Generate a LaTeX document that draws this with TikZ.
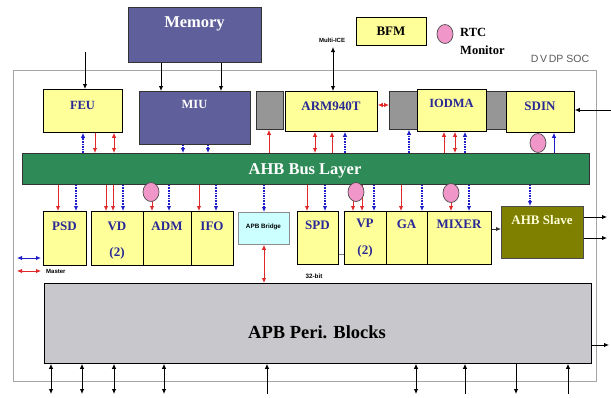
\documentclass[tikz,border=0pt]{standalone}
\usepackage{fontspec}
\setmainfont{Liberation Serif}
\newfontfamily\sansf{Liberation Sans}
\usetikzlibrary{arrows.meta,shapes.geometric}
\definecolor{memblue}{RGB}{95,95,155}
\definecolor{boxyel}{RGB}{255,255,153}
\definecolor{busgreen}{RGB}{46,139,87}
\definecolor{txtblue}{RGB}{40,40,150}
\definecolor{arrred}{RGB}{225,40,40}
\definecolor{arrblue}{RGB}{30,30,200}
\definecolor{boxgray}{RGB}{150,150,150}
\definecolor{perigray}{RGB}{200,200,204}
\definecolor{olivebox}{RGB}{128,128,0}
\definecolor{slavetxt}{RGB}{255,255,215}
\definecolor{bridgecyan}{RGB}{204,255,255}
\definecolor{rtcpink}{RGB}{240,150,200}
\definecolor{socgray}{RGB}{165,165,165}
\newcommand\blk[6]{\node[#1,anchor=north west,minimum width={#4pt-#2pt},minimum height={#5pt-#3pt}] (#6) at (#2,#3) {};}
\newcommand\va[4]{\draw[#1] (#2,0 |- #3) -- (#2,0 |- #4);}
\newcommand\tfs[1]{\fontsize{#1}{#1}\selectfont}
\begin{document}
\begin{tikzpicture}[x=1pt,y=-1pt,
  yelbox/.style={draw=black,line width=0.8pt,fill=boxyel,inner sep=0pt},
  membox/.style={draw=black!80,line width=0.8pt,fill=memblue,inner sep=0pt},
  graybox/.style={draw=black!80,line width=0.8pt,fill=boxgray,inner sep=0pt},
  busbox/.style={draw=black!80,line width=0.8pt,fill=busgreen,inner sep=0pt},
  peribox/.style={draw=black,line width=0.8pt,fill=perigray,inner sep=0pt},
  slavebox/.style={draw=black!70,line width=0.8pt,fill=olivebox,inner sep=0pt},
  bridgebox/.style={draw=black!45,line width=0.8pt,fill=bridgecyan,inner sep=0pt},
  socbox/.style={draw=socgray,line width=1.3pt,inner sep=0pt},
  btxt/.style={inner sep=0pt,text=txtblue,font=\tfs{12.5}\bfseries},
  wtxt/.style={inner sep=0pt,text=white,font=\tfs{12.5}\bfseries},
  ktxt/.style={inner sep=0pt,text=black,font=\tfs{12.5}\bfseries},
  stxt/.style={inner sep=0pt,text=black,font=\sansf\tfs{6.3}\bfseries},
  ra/.style={draw=arrred,line width=0.9pt,-{Latex[length=5pt,width=4.5pt]}},
  rab/.style={draw=arrred,line width=0.9pt,{Latex[length=5pt,width=4.5pt]}-{Latex[length=5pt,width=4.5pt]}},
  ba/.style={draw=arrblue,line width=1.2pt,dash pattern=on 1.6pt off 1pt,-{Latex[length=5pt,width=4.5pt]}},
  bas/.style={draw=arrblue,line width=0.9pt,-{Latex[length=5pt,width=4.5pt]}},
  ka/.style={draw=black,line width=0.9pt,-{Latex[length=5pt,width=4.5pt]}},
  kab/.style={draw=black,line width=0.9pt,{Latex[length=5pt,width=4.5pt]}-{Latex[length=5pt,width=4.5pt]}},
  rtc/.style={ellipse,draw=black!70,line width=0.7pt,fill=rtcpink,minimum width=16pt,minimum height=19pt,inner sep=0pt}
]
\useasboundingbox (0,0) rectangle (611,397);
% SOC boundary
\blk{socbox}{13}{70}{596}{381}{soc}
\node[inner sep=0pt,text=black!65,font=\sansf\tfs{10.5}] (soclbl) at (560,59) {D\,V\,DP SOC};
% memory
\blk{membox}{128}{7}{261}{62}{mem}
\node[wtxt,font=\tfs{16.5}\bfseries] (memt) at (194.5,24) {Memory};
% top row
\blk{yelbox}{43}{89}{122}{132}{feu}
\blk{membox}{139}{91}{250}{144}{miu}
\blk{graybox}{256}{91}{283}{129}{g1}
\blk{yelbox}{285}{91}{377}{131}{arm}
\blk{graybox}{389}{91}{506}{129}{g2}
\blk{yelbox}{417}{89}{486}{131}{iodma}
\blk{yelbox}{506}{91}{574}{132}{sdin}
\node[btxt] (feut) at (82.5,105) {FEU};
\node[wtxt] (miut) at (194.5,104) {MIU};
\node[btxt,font=\tfs{13}\bfseries] (armt) at (331,106) {ARM940T};
\node[btxt] (iodmat) at (451.5,103) {IODMA};
\node[btxt,font=\tfs{13}\bfseries] (sdint) at (540,106) {SDIN};
% legend top
\blk{yelbox}{356}{17}{426}{45}{bfm}
\node[ktxt,font=\tfs{13}\bfseries] (bfmt) at (391,31) {BFM};
\node[rtc] (rtcl) at (445,34) {};
\node[ktxt,anchor=west] (rtct) at (460,32) {RTC};
\node[ktxt,anchor=west] (mont) at (460,50) {Monitor};
\node[stxt,font=\sansf\tfs{6}\bfseries] (mice) at (332,40) {Multi-ICE};
\coordinate (miceA) at (333,47);
% bus
\blk{busbox}{22}{153}{589}{184}{bus}
\node[wtxt,font=\tfs{16.5}\bfseries] (bust) at (305,171) {AHB Bus Layer};
% bottom row
\blk{yelbox}{43}{211}{86}{265}{psd}
\blk{yelbox}{91}{211}{143}{265}{vd}
\blk{yelbox}{143}{211}{191}{265}{adm}
\blk{yelbox}{191}{211}{233}{265}{ifo}
\blk{bridgebox}{238}{212}{289}{244}{bridge}
\blk{yelbox}{297}{211}{338}{264}{spd}
\blk{yelbox}{344}{211}{386}{264}{vp}
\blk{yelbox}{386}{211}{427}{264}{ga}
\blk{yelbox}{427}{211}{491}{264}{mixer}
\blk{slavebox}{501}{206}{583}{258}{slave}
\node[btxt,font=\tfs{13}\bfseries] (psdt) at (64.5,226) {PSD};
\node[btxt,font=\tfs{13}\bfseries] (vdt) at (117,226) {VD};
\node[btxt,font=\tfs{13}\bfseries] (vdn) at (117,253) {(2)};
\node[btxt,font=\tfs{13}\bfseries] (admt) at (167,226) {ADM};
\node[btxt,font=\tfs{13}\bfseries] (ifot) at (212,226) {IFO};
\node[stxt] (bridget) at (263.5,227) {APB Bridge};
\node[btxt,font=\tfs{13}\bfseries] (spdt) at (317.5,225) {SPD};
\node[btxt,font=\tfs{13}\bfseries] (vpt) at (365,223) {VP};
\node[btxt,font=\tfs{13}\bfseries] (vpn) at (365,251) {(2)};
\node[btxt,font=\tfs{13}\bfseries] (gat) at (406.5,224) {GA};
\node[btxt,font=\tfs{13}\bfseries] (mixert) at (459,224) {MIXER};
\node[wtxt,text=slavetxt,font=\tfs{13}\bfseries] (slavet) at (542,220) {AHB Slave};
% APB peripheral
\blk{peribox}{44}{283}{591}{363}{peri}
\node[ktxt,font=\tfs{18.5}\bfseries] (perit) at (317,332) {APB Peri. Blocks};
% legend
\coordinate (lgbA) at (17,258); \coordinate (lgbB) at (41,258);
\coordinate (lgrA) at (17,271); \coordinate (lgrB) at (41,271);
\draw[draw=arrblue,line width=1pt,{Latex[length=5pt,width=4.5pt]}-{Latex[length=5pt,width=4.5pt]}] (lgbA) -- (lgbB);
\draw[rab] (lgrA) -- (lgrB);
\node[stxt,anchor=west,font=\sansf\tfs{6}\bfseries] (master) at (46,271) {Master};
\node[stxt,font=\sansf\tfs{6.3}\bfseries] (bits) at (314,276) {32-bit};
% external connectors
\coordinate (feuin) at (85,52);
\draw[ka] (feuin) -- (feuin |- feu.north);
\draw[ka] (161,0 |- mem.south) -- (161,0 |- miu.north);
\draw[ka] (221,0 |- mem.south) -- (221,0 |- miu.north);
\draw[kab] (miceA) -- (miceA |- arm.north);
\coordinate (sdinin) at (611,110);
\draw[ka] (sdinin) -- (sdinin -| sdin.east);
\draw[rab] (arm.east |- 0,105) -- (g2.west |- 0,105);
\draw[ka,draw=black!80] (mixer.east |- 0,229) -- (slave.west |- 0,229);
\draw[draw=black!50,line width=0.8pt] (spd.east |- 0,254) -- (vp.west |- 0,254);
\coordinate (so1) at (607,217); \coordinate (so2) at (607,238);
\draw[ka] (slave.east |- so1) -- (so1);
\draw[ka] (slave.east |- so2) -- (so2);
\coordinate (po) at (609,345);
\draw[ka] (peri.east |- po) -- (po);
% top row to bus
\va{ba}{83}{bus.north}{feu.south}
\va{ra}{95}{feu.south}{bus.north}
\va{rab}{114}{feu.south}{bus.north}
\va{ba}{183}{miu.south}{bus.north}
\va{ba}{208}{miu.south}{bus.north}
\va{ra}{269}{bus.north}{g1.south}
\va{rab}{315}{arm.south}{bus.north}
\va{ra}{332}{bus.north}{arm.south}
\va{ba}{345}{bus.north}{arm.south}
\va{ba}{409}{bus.north}{g2.south}
\va{ra}{444}{bus.north}{iodma.south}
\va{rab}{455}{iodma.south}{bus.north}
\va{ba}{465}{bus.north}{iodma.south}
\va{bas}{554}{bus.north}{sdin.south}
\node[rtc] (c0) at (538,143) {};
% bus to bottom row
\va{ra}{58}{bus.south}{psd.north}
\va{ba}{76}{bus.south}{psd.north}
\va{ra}{106}{bus.south}{vd.north}
\va{ra}{113}{bus.south}{vd.north}
\va{ba}{123}{bus.south}{vd.north}
\va{ra}{152}{bus.south}{adm.north}
\node[rtc] (c1) at (151,192) {};
\va{ba}{169}{bus.south}{adm.north}
\va{ra}{199}{bus.south}{ifo.north}
\va{ba}{216}{bus.south}{ifo.north}
\va{ba}{264}{bus.south}{bridge.north}
\va{ra}{307}{bus.south}{spd.north}
\va{ba}{325}{bus.south}{spd.north}
\va{ra}{353}{bus.south}{vp.north}
\va{ra}{362}{bus.south}{vp.north}
\node[rtc] (c2) at (356,192) {};
\va{ba}{374}{bus.south}{vp.north}
\va{ra}{401}{bus.south}{ga.north}
\va{ba}{422}{bus.south}{ga.north}
\va{ra}{451}{bus.south}{mixer.north}
\node[rtc] (c3) at (451,193) {};
\va{ba}{469}{bus.south}{mixer.north}
\va{ba}{530}{bus.south}{slave.north}
% bridge to peripherals
\va{rab}{264}{bridge.south}{peri.north}
% peripheral IO
\foreach \x/\n in {51/b1,82/b2,114/b3,164/b4,267/b5,416/b6,465/b7,516/b8,568/b9}{\coordinate (\n) at (\x,394);}
\draw[kab] (peri.south -| b1) -- (b1);
\draw[kab] (peri.south -| b2) -- (b2);
\draw[kab] (peri.south -| b3) -- (b3);
\draw[kab] (peri.south -| b4) -- (b4);
\draw[ka] (b5) -- (peri.south -| b5);
\draw[kab] (peri.south -| b6) -- (b6);
\draw[ka] (b7) -- (peri.south -| b7);
\draw[ka] (peri.south -| b8) -- (b8);
\draw[ka] (b9) -- (peri.south -| b9);
\end{tikzpicture}
\end{document}
